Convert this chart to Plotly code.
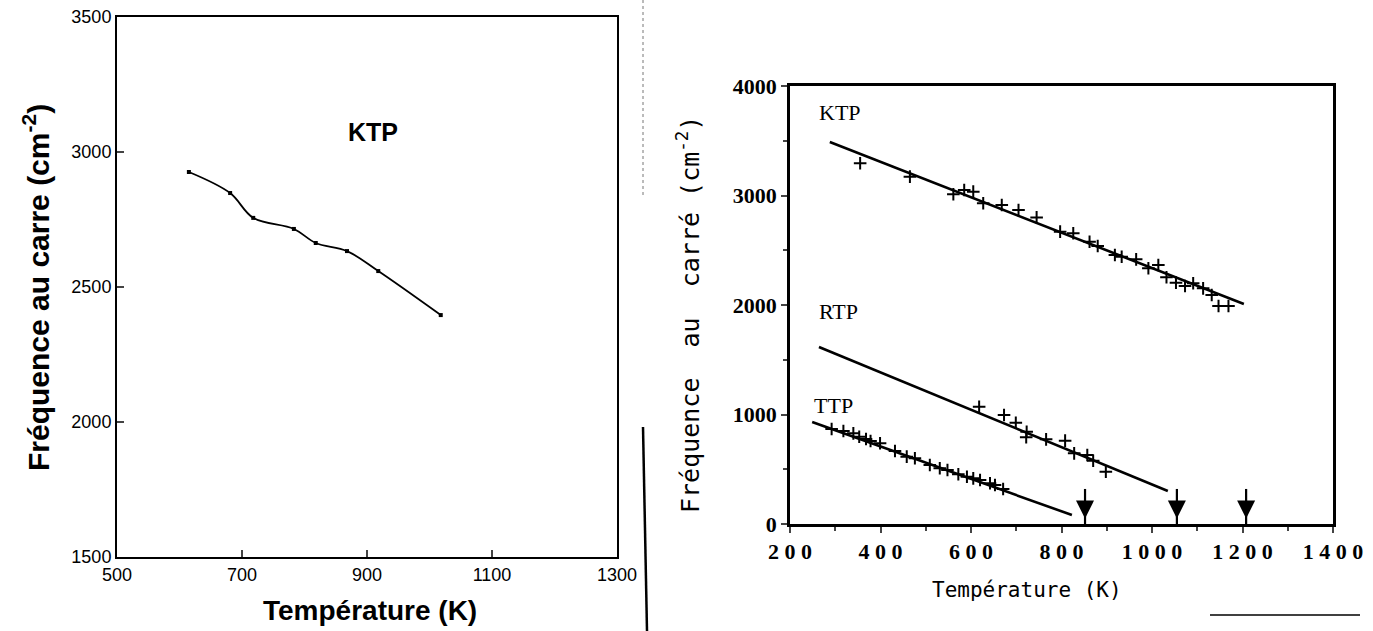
import plotly.graph_objects as go

W, H = 1373, 631

# ---------------- Left panel data (KTP) ----------------
left_T = [615, 681, 718, 783, 818, 868, 918, 1018]
left_F = [2926, 2848, 2756, 2715, 2663, 2633, 2559, 2396]
left_xticks = [500, 700, 900, 1100, 1300]
left_yticks = [1500, 2000, 2500, 3000, 3500]

# ---------------- Right panel data ----------------
ktp_T = [355, 465, 561, 585, 605, 627, 668, 705, 745, 797, 826, 862, 880, 918, 933,
         965, 992, 1014, 1032, 1053, 1073, 1091, 1113, 1132, 1147, 1169]
ktp_F = [3294, 3172, 3011, 3050, 3035, 2929, 2913, 2868, 2800, 2670, 2655, 2578, 2539,
         2457, 2441, 2417, 2335, 2365, 2253, 2204, 2174, 2198, 2152, 2091, 1991, 1991]
rtp_T = [618, 673, 699, 723, 722, 766, 808, 828, 857, 870, 898]
rtp_F = [1071, 995, 925, 843, 792, 773, 761, 645, 630, 578, 478]
ttp_T = [292, 318, 340, 353, 368, 378, 399, 432, 458, 476, 509, 531, 548, 572, 591,
         605, 620, 642, 653, 671]
ttp_F = [868, 849, 828, 797, 776, 758, 737, 667, 615, 600, 539, 509, 493, 454, 432,
         417, 402, 372, 356, 320]

ktp_fit_T = [288, 1203]
ktp_fit_F = [3489, 2009]
rtp_fit_T = [264, 1035]
rtp_fit_F = [1616, 301]
ttp_fit_T = [249, 823]
ttp_fit_F = [931, 82]

transition_T = [852, 1055, 1208]
arrow_top_F = 320
arrow_head_F = 50

right_xticks = [200, 400, 600, 800, 1000, 1200, 1400]
right_xticktext = ["2 0 0", "4 0 0", "6 0 0", "8 0 0", "1 0 0 0", "1 2 0 0", "1 4 0 0"]
right_yticks = [0, 1000, 2000, 3000, 4000]


def px(x):
    return x / W


def py(y):
    return 1 - y / H


fig = go.Figure()

# left curve
fig.add_trace(go.Scatter(
    x=left_T, y=left_F, mode="lines+markers",
    line=dict(color="black", width=1.8, shape="spline", smoothing=1.0),
    marker=dict(symbol="square", size=4, color="black"),
    xaxis="x", yaxis="y", showlegend=False))

cross = dict(symbol="cross-thin", size=9, line=dict(color="black", width=2), color="black")
for T, F in [(ktp_fit_T, ktp_fit_F), (rtp_fit_T, rtp_fit_F), (ttp_fit_T, ttp_fit_F)]:
    fig.add_trace(go.Scatter(x=T, y=F, mode="lines", line=dict(color="black", width=2.6),
                             xaxis="x2", yaxis="y2", showlegend=False))
for T, F in [(ktp_T, ktp_F), (rtp_T, rtp_F), (ttp_T, ttp_F)]:
    fig.add_trace(go.Scatter(x=T, y=F, mode="markers", marker=cross,
                             xaxis="x2", yaxis="y2", showlegend=False))

# arrows at transition temperatures: shaft + head
for T in transition_T:
    fig.add_trace(go.Scatter(x=[T, T], y=[arrow_top_F, 0], mode="lines",
                             line=dict(color="black", width=2.2),
                             xaxis="x2", yaxis="y2", showlegend=False))
fig.add_trace(go.Scatter(x=transition_T, y=[arrow_head_F] * len(transition_T), mode="markers",
                         marker=dict(symbol="arrow-down", size=18, color="black"),
                         xaxis="x2", yaxis="y2", showlegend=False))

left_font = dict(family="Liberation Sans, Arial", size=18, color="black")
right_tick_font = dict(family="Liberation Serif, Times New Roman", size=22, color="black", weight="bold")

fig.update_layout(
    width=W, height=H, autosize=False,
    margin=dict(l=0, r=0, t=0, b=0, pad=0),
    paper_bgcolor="white", plot_bgcolor="white",
    xaxis=dict(domain=[px(117), px(617)], range=[500, 1300], anchor="y", automargin=False,
               tickvals=left_xticks, ticks="inside", ticklen=7, tickwidth=1.5,
               showline=True, linewidth=2, linecolor="black", mirror=True,
               showgrid=False, zeroline=False, tickfont=left_font),
    yaxis=dict(domain=[py(557), py(17)], range=[1500, 3500], anchor="x", automargin=False,
               tickvals=left_yticks, ticks="inside", ticklen=7, tickwidth=1.5,
               showline=True, linewidth=2, linecolor="black", mirror=True,
               showgrid=False, zeroline=False, tickfont=left_font),
    xaxis2=dict(domain=[px(790), px(1333)], range=[200, 1400], anchor="y2", automargin=False,
                tickvals=right_xticks, ticktext=right_xticktext,
                ticks="outside", ticklen=6, tickwidth=2,
                minor=dict(dtick=100, tick0=200, ticks="outside", ticklen=4, tickwidth=1.5),
                showline=True, linewidth=2.5, linecolor="black", mirror=True,
                showgrid=False, zeroline=False, tickfont=right_tick_font),
    yaxis2=dict(domain=[py(524), py(86)], range=[0, 4000], anchor="x2", automargin=False,
                tickvals=right_yticks, ticks="outside", ticklen=6, tickwidth=2,
                minor=dict(dtick=500, tick0=0, ticks="outside", ticklen=4, tickwidth=1.5),
                showline=True, linewidth=2.5, linecolor="black", mirror=True,
                showgrid=False, zeroline=False, tickfont=right_tick_font),
)

ann = []
C = dict(xref="paper", yref="paper", xanchor="center", yanchor="middle", showarrow=False)
# left titles
ann.append(dict(x=px(36), y=py(288), textangle=-90,
                text="Fréquence au carre (cm<sup>-2</sup>)",
                font=dict(family="Liberation Sans, Arial", size=30, color="black", weight="bold"), **C))
ann.append(dict(x=px(370), y=py(610),
                text="Température (K)",
                font=dict(family="Liberation Sans, Arial", size=28, color="black", weight="bold"), **C))
ann.append(dict(x=px(373), y=py(132),
                text="KTP",
                font=dict(family="Liberation Sans, Arial", size=25, color="black", weight="bold"), **C))
# right titles
ann.append(dict(x=px(688), y=py(315), textangle=-90,
                text="Fréquence  au  carré (cm<sup>-2</sup>)",
                font=dict(family="DejaVu Sans Mono", size=25, color="black"), **C))
ann.append(dict(x=px(1027), y=py(590),
                text="Température (K)",
                font=dict(family="DejaVu Sans Mono", size=21, color="black"), **C))
serif = dict(family="Liberation Serif, Times New Roman", size=22, color="black")
for name, x, y in [("KTP", 840, 112), ("RTP", 838, 312), ("TTP", 833, 405)]:
    ann.append(dict(x=px(x), y=py(y), text=name, font=serif, **C))
fig.update_layout(annotations=ann)

# scan artefacts (page edge / rule lines)
shapes = [
    dict(type="line", xref="paper", yref="paper", x0=px(643), x1=px(643), y0=py(0), y1=py(195),
         line=dict(color="#777", width=1, dash="dot")),
    dict(type="line", xref="paper", yref="paper", x0=px(643), x1=px(647), y0=py(427), y1=py(631),
         line=dict(color="black", width=2.5)),
    dict(type="line", xref="paper", yref="paper", x0=px(1210), x1=px(1360), y0=py(615), y1=py(615),
         line=dict(color="black", width=1.5)),
]
fig.update_layout(shapes=shapes)

fig.write_html("out.html", config={"displayModeBar": False},
               post_script="document.body.style.margin='0px';")
